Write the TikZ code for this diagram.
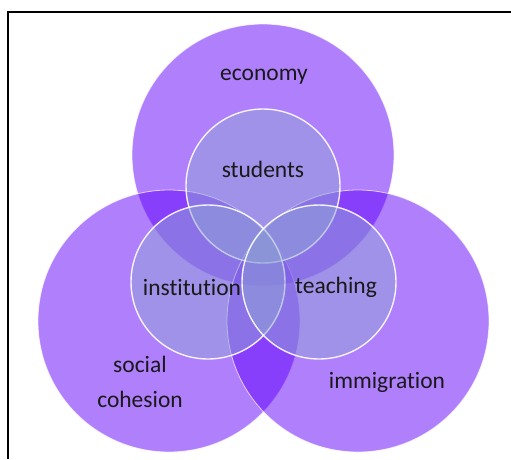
\documentclass[tikz,border=0pt]{standalone}
\usepackage{fontspec}
\setmainfont[Ligatures=NoCommon]{Carlito}
\usepackage{tikz}

\definecolor{setviolet}{RGB}{97,0,250}
\definecolor{subsetblue}{RGB}{144,166,212}

\tikzset{
  bigset/.style={circle, minimum size=262pt, inner sep=0pt,
                 fill=setviolet, fill opacity=0.5,
                 draw=white, draw opacity=0.7, line width=0.8pt},
  smallset/.style={circle, minimum size=154pt, inner sep=0pt,
                   fill=subsetblue, fill opacity=0.5,
                   draw=white, draw opacity=0.9, line width=1.4pt},
  setlabel/.style={text=black!90, font=\fontsize{23.5}{35}\selectfont, align=center}
}

\begin{document}
\begin{tikzpicture}[x=1pt,y=-1pt]
  \useasboundingbox (0,0) rectangle (511,459);
  % Rahmen (nur links und oben sichtbar)
  \draw[line width=1.5pt] (8,459) |- (511,12);

  % grosse Kreise
  \node[bigset] (economy)     at (263,155) {};
  \node[bigset] (social)      at (169,321) {};
  \node[bigset] (immigration) at (358,321) {};

  % kleine Kreise
  \node[smallset] (students)    at (263,186) {};
  \node[smallset] (institution) at (208,282) {};
  \node[smallset] (teaching)    at (319,282) {};

  % Beschriftungen
  \node[setlabel] (economylbl)     at (264,77)  {economy};
  \node[setlabel] (studentslbl)    at (263,169) {students};
  \node[setlabel] (institutionlbl) at (192,287) {institution};
  \node[setlabel] (teachinglbl)    at (336,287) {teaching};
  \node[setlabel] (sociallbl)      at (140,382) {social\\cohesion};
  \node[setlabel] (immigrationlbl) at (387,382) {immigration};
\end{tikzpicture}
\end{document}
